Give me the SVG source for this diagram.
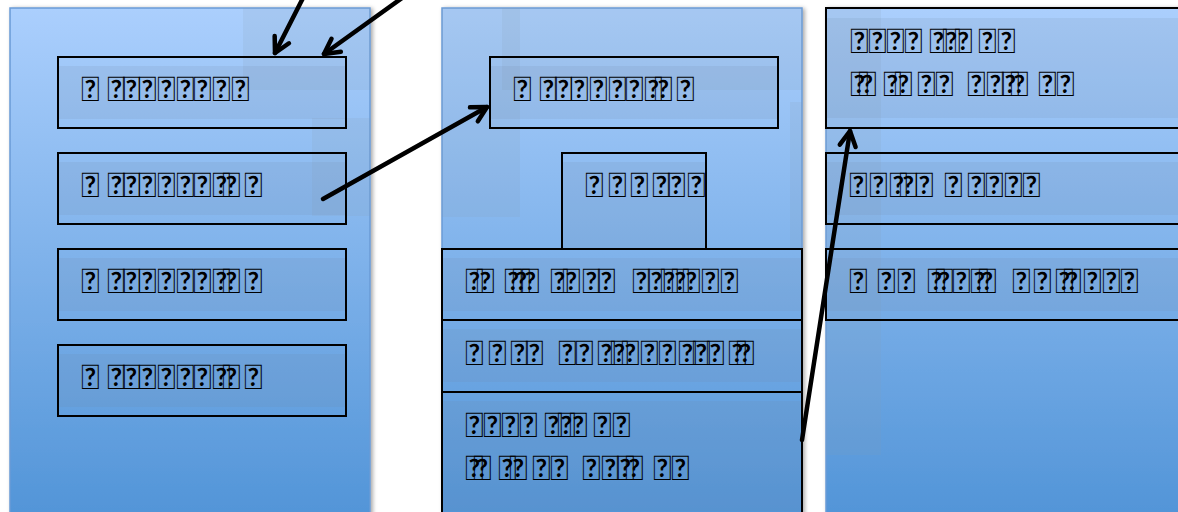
<svg xmlns="http://www.w3.org/2000/svg" width="1178" height="512" viewBox="0 0 1178 512">
<defs>
<linearGradient id="pg" x1="0" y1="0" x2="0" y2="1">
<stop offset="0" stop-color="#abcffd"/>
<stop offset="1" stop-color="#4e92d6"/>
</linearGradient>
<filter id="sh" x="-5%" y="-5%" width="115%" height="115%">
<feDropShadow dx="2" dy="1" stdDeviation="2" flood-color="#000" flood-opacity="0.35"/>
</filter>
<marker id="ah" markerUnits="userSpaceOnUse" markerWidth="30" markerHeight="30" refX="0" refY="0" viewBox="-20 -15 30 30" orient="auto" overflow="visible">
<path d="M-15,-8 L0,0 L-15,8" fill="none" stroke="#000" stroke-width="4.5" stroke-linecap="round" stroke-linejoin="round"/>
</marker>
</defs>
<style>
.panel{fill:url(#pg);stroke:#6a9bd6;stroke-width:1.5;filter:url(#sh)}
.ov{fill:#8a9cb0;fill-opacity:0.14}
.box{fill:none;stroke:#000;stroke-width:2}
.band{fill:#6e86a6;fill-opacity:0.14}
.t{font-family:Lato, sans-serif;font-size:34px;fill:#000}
.conn{fill:none;stroke:#000;stroke-width:4.5;stroke-linecap:round;marker-end:url(#ah)}
</style>
<rect width="1178" height="512" fill="#fff"/>
<g id="panel-left">
<rect class="panel" x="10" y="8" width="360" height="530"/>
<rect class="ov" x="243" y="8" width="127" height="82"/>
<rect class="ov" x="312" y="118" width="58" height="98"/>
</g>
<g id="panel-middle">
<rect class="panel" x="442" y="8" width="360" height="530"/>
<rect class="ov" x="442" y="8" width="78" height="209"/>
<rect class="ov" x="502" y="8" width="300" height="82"/>
<rect class="ov" x="790" y="102" width="12" height="148"/>
</g>
<g id="panel-right">
<rect class="panel" x="826" y="8" width="360" height="530"/>
<rect class="ov" x="826" y="8" width="55" height="447"/>
</g>
<g id="node-l1"><rect class="band" x="59" y="66" width="287" height="53"/><rect class="box" x="58" y="57" width="288" height="71"/><text class="t" x="81 99 107 122 138 157 176 193 212 231" y="101">&#xE001; &#xE002;&#xE003;&#xE004;&#xE005;&#xE006;&#xE007;&#xE008;&#xE009;</text></g>
<g id="node-l2"><rect class="band" x="59" y="162" width="287" height="53"/><rect class="box" x="58" y="153" width="288" height="71"/><text class="t" x="81 99 107 122 138 157 176 193 212 222 235 244" y="197">&#xE001; &#xE002;&#xE003;&#xE004;&#xE005;&#xE006;&#xE007;&#xE008;&#xE00A; &#xE00B;</text></g>
<g id="node-l3"><rect class="band" x="59" y="258" width="287" height="53"/><rect class="box" x="58" y="249" width="288" height="71"/><text class="t" x="81 99 107 122 138 157 176 193 212 222 235 244" y="293">&#xE001; &#xE002;&#xE003;&#xE004;&#xE005;&#xE006;&#xE007;&#xE008;&#xE00A; &#xE00C;</text></g>
<g id="node-l4"><rect class="band" x="59" y="354" width="287" height="53"/><rect class="box" x="58" y="345" width="288" height="71"/><text class="t" x="81 99 107 122 138 157 176 193 212 222 235 244" y="389">&#xE001; &#xE002;&#xE003;&#xE004;&#xE005;&#xE006;&#xE007;&#xE008;&#xE00A; &#xE00D;</text></g>
<g id="node-m1"><rect class="band" x="491" y="66" width="287" height="53"/><rect class="box" x="490" y="57" width="288" height="71"/><text class="t" x="513 531 539 554 570 589 608 625 644 654 667 676" y="101">&#xE001; &#xE002;&#xE003;&#xE004;&#xE005;&#xE006;&#xE007;&#xE008;&#xE00A; &#xE00B;</text></g>
<g id="node-m2"><rect class="band" x="563" y="162" width="143" height="86"/><rect class="box" x="562" y="153" width="144" height="96"/><text class="t" x="585 608 630 652 667 687" y="197">&#xE010;&#xE011;&#xE012;&#xE013;&#xE014;&#xE015;</text></g>
<g id="node-m3"><rect class="band" x="443" y="258" width="359" height="53"/><rect class="box" x="442" y="249" width="360" height="71"/><text class="t" x="465 476 494 504 512 521 539 550 562 582 597 615 632 647 660 671 682 701 720" y="293">&#xE020;&#xE021; &#xE022;&#xE023;&#xE024; &#xE025;&#xE026;&#xE027;&#xE028; &#xE029;&#xE02A;&#xE02B;&#xE02C;&#xE02D;&#xE02E;&#xE02F;</text></g>
<g id="node-m4"><rect class="band" x="443" y="329" width="359" height="53"/><rect class="box" x="442" y="320" width="360" height="72"/><text class="t" x="465 482 488 506 510 525 543 558 575 593 597 610 621 639 640 657 658 676 678 692 706 724 728 736" y="365">&#xE030; &#xE031; &#xE032;&#xE033; &#xE034;&#xE035; &#xE036;&#xE037;&#xE038; &#xE039; &#xE03A; &#xE03B;&#xE03C;&#xE03D; &#xE03E;&#xE03F;</text></g>
<g id="node-m5"><rect class="band" x="443" y="401" width="359" height="110"/><rect class="box" x="442" y="392" width="360" height="130"/><text class="t" x="465 483 501 519 537 544 557 569 587 593 612" y="437">&#xE040;&#xE041;&#xE042;&#xE043; &#xE044;&#xE045;&#xE046; &#xE047;&#xE048;</text><text class="t" x="465 473 491 498 509 527 532 550 568 582 601 616 625 643 653 671 671" y="480">&#xE050;&#xE051; &#xE052;&#xE053; &#xE054;&#xE055; &#xE056;&#xE057;&#xE058;&#xE059; &#xE05A; &#xE05B;</text></g>
<g id="node-r1"><rect class="band" x="827" y="18" width="351" height="100"/><rect class="box" x="826" y="8" width="360" height="120"/><text class="t" x="850 868 886 904 922 929 942 954 972 978 997" y="53">&#xE040;&#xE041;&#xE042;&#xE043; &#xE044;&#xE045;&#xE046; &#xE047;&#xE048;</text><text class="t" x="850 858 876 883 894 912 917 935 953 967 986 1001 1010 1028 1038 1056 1056" y="96">&#xE050;&#xE051; &#xE052;&#xE053; &#xE054;&#xE055; &#xE056;&#xE057;&#xE058;&#xE059; &#xE05A; &#xE05B;</text></g>
<g id="node-r2"><rect class="band" x="827" y="162" width="351" height="53"/><rect class="box" x="826" y="153" width="360" height="71"/><text class="t" x="849 869 889 899 915 933 944 962 967 985 1004 1022" y="197">&#xE060;&#xE061;&#xE062;&#xE063;&#xE064; &#xE065; &#xE066;&#xE067;&#xE068;&#xE069;</text></g>
<g id="node-r3"><rect class="band" x="827" y="258" width="351" height="53"/><rect class="box" x="826" y="249" width="360" height="71"/><text class="t" x="849 867 877 897 915 927 935 952 970 978 996 1012 1033 1051 1055 1063 1083 1102 1120" y="293">&#xE070; &#xE071;&#xE072; &#xE073;&#xE074;&#xE075;&#xE076;&#xE077; &#xE078;&#xE079; &#xE07A;&#xE07B;&#xE07C;&#xE07D;&#xE07E;</text></g>
<g id="connectors">
<path class="conn" d="M303,-2 L275,53"/>
<path class="conn" d="M402,-2 L324,54"/>
<path class="conn" d="M323,199 L487,107"/>
<path class="conn" d="M802,440 L850,131"/>
</g>
</svg>
